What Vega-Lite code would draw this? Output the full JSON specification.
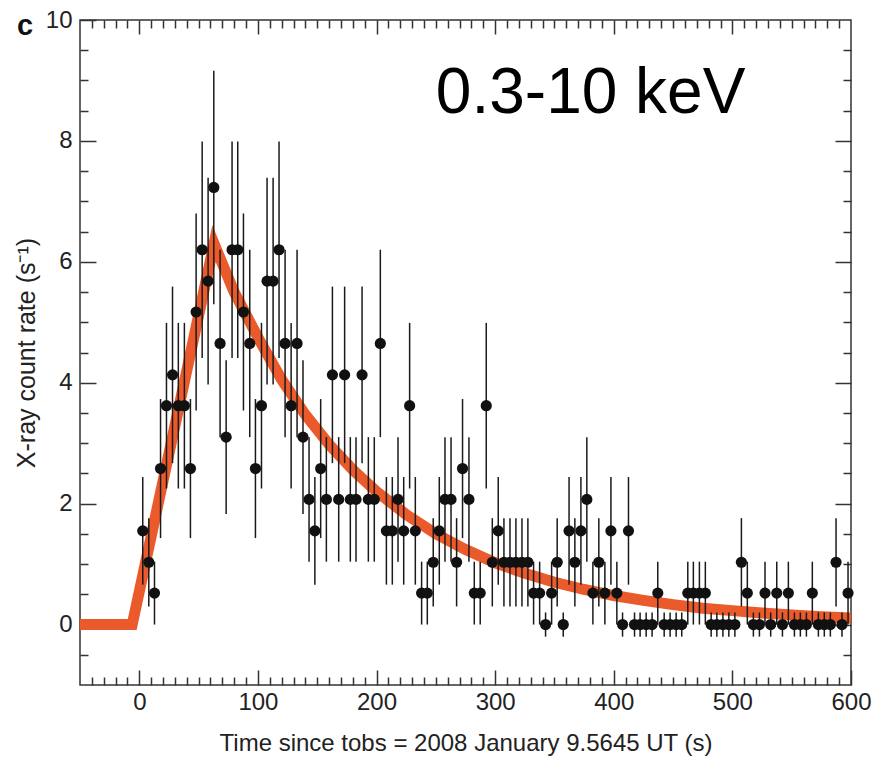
{
  "$schema": "https://vega.github.io/schema/vega-lite/v6.json",
  "width": 771,
  "height": 665,
  "autosize": {"type": "none"},
  "padding": {"left": 80, "top": 20, "right": 22, "bottom": 72},
  "background": "white",
  "title": {"text": "c", "anchor": "start", "frame": "group", "font": "Liberation Sans", "fontSize": 29, "fontWeight": "bold", "color": "#111", "dx": -63, "dy": 56, "offset": 0, "baseline": "alphabetic"},
  "config": {
    "view": {"stroke": "#333", "strokeWidth": 1.5},
    "axis": {"domain": false, "grid": false, "labelFont": "Liberation Sans", "titleFont": "Liberation Sans", "labelColor": "#222", "titleColor": "#222", "tickColor": "#333", "tickWidth": 1.5, "labelFontSize": 24, "titleFontSize": 24, "titleFontWeight": "normal", "labelFlush": false, "labelOverlap": false}
  },
  "datasets": {
    "obs": [
      {"t": 2.9, "rate": 1.55, "err": 0.89},
      {"t": 8.0, "rate": 1.03, "err": 0.73},
      {"t": 12.8, "rate": 0.52, "err": 0.52},
      {"t": 17.9, "rate": 2.58, "err": 1.15},
      {"t": 22.9, "rate": 3.62, "err": 1.37},
      {"t": 28.0, "rate": 4.13, "err": 1.46},
      {"t": 32.9, "rate": 3.62, "err": 1.37},
      {"t": 38.0, "rate": 3.62, "err": 1.37},
      {"t": 43.1, "rate": 2.58, "err": 1.15},
      {"t": 47.9, "rate": 5.17, "err": 1.63},
      {"t": 53.0, "rate": 6.2, "err": 1.79},
      {"t": 58.0, "rate": 5.68, "err": 1.71},
      {"t": 62.8, "rate": 7.23, "err": 1.93},
      {"t": 68.1, "rate": 4.65, "err": 1.55},
      {"t": 73.2, "rate": 3.1, "err": 1.27},
      {"t": 78.2, "rate": 6.2, "err": 1.79},
      {"t": 83.0, "rate": 6.2, "err": 1.79},
      {"t": 87.8, "rate": 5.17, "err": 1.63},
      {"t": 93.1, "rate": 4.65, "err": 1.55},
      {"t": 97.9, "rate": 2.58, "err": 1.15},
      {"t": 103.0, "rate": 3.62, "err": 1.37},
      {"t": 107.7, "rate": 5.68, "err": 1.71},
      {"t": 112.8, "rate": 5.68, "err": 1.71},
      {"t": 117.8, "rate": 6.2, "err": 1.79},
      {"t": 122.9, "rate": 4.65, "err": 1.55},
      {"t": 128.0, "rate": 3.62, "err": 1.37},
      {"t": 133.0, "rate": 4.65, "err": 1.55},
      {"t": 138.0, "rate": 3.1, "err": 1.27},
      {"t": 143.1, "rate": 2.07, "err": 1.03},
      {"t": 148.0, "rate": 1.55, "err": 0.89},
      {"t": 152.9, "rate": 2.58, "err": 1.15},
      {"t": 157.7, "rate": 2.07, "err": 1.03},
      {"t": 162.8, "rate": 4.13, "err": 1.46},
      {"t": 168.1, "rate": 2.07, "err": 1.03},
      {"t": 173.1, "rate": 4.13, "err": 1.46},
      {"t": 177.9, "rate": 2.07, "err": 1.03},
      {"t": 182.7, "rate": 2.07, "err": 1.03},
      {"t": 187.8, "rate": 4.13, "err": 1.46},
      {"t": 193.1, "rate": 2.07, "err": 1.03},
      {"t": 198.1, "rate": 2.07, "err": 1.03},
      {"t": 203.2, "rate": 4.65, "err": 1.55},
      {"t": 208.3, "rate": 1.55, "err": 0.89},
      {"t": 213.3, "rate": 1.55, "err": 0.89},
      {"t": 218.1, "rate": 2.07, "err": 1.03},
      {"t": 222.9, "rate": 1.55, "err": 0.89},
      {"t": 227.9, "rate": 3.62, "err": 1.37},
      {"t": 232.7, "rate": 1.55, "err": 0.89},
      {"t": 238.0, "rate": 0.52, "err": 0.52},
      {"t": 242.8, "rate": 0.52, "err": 0.52},
      {"t": 247.8, "rate": 1.03, "err": 0.73},
      {"t": 252.9, "rate": 1.55, "err": 0.89},
      {"t": 257.7, "rate": 2.07, "err": 1.03},
      {"t": 262.8, "rate": 2.07, "err": 1.03},
      {"t": 267.5, "rate": 1.03, "err": 0.73},
      {"t": 272.5, "rate": 2.58, "err": 1.15},
      {"t": 277.9, "rate": 2.07, "err": 1.03},
      {"t": 282.4, "rate": 0.52, "err": 0.52},
      {"t": 287.4, "rate": 0.52, "err": 0.52},
      {"t": 292.5, "rate": 3.62, "err": 1.37},
      {"t": 297.6, "rate": 1.03, "err": 0.73},
      {"t": 302.6, "rate": 1.55, "err": 0.89},
      {"t": 307.4, "rate": 1.03, "err": 0.73},
      {"t": 312.5, "rate": 1.03, "err": 0.73},
      {"t": 317.5, "rate": 1.03, "err": 0.73},
      {"t": 322.6, "rate": 1.03, "err": 0.73},
      {"t": 327.6, "rate": 1.03, "err": 0.73},
      {"t": 332.4, "rate": 0.52, "err": 0.52},
      {"t": 337.5, "rate": 0.52, "err": 0.52},
      {"t": 342.5, "rate": 0, "err": 0.2},
      {"t": 347.6, "rate": 0.52, "err": 0.52},
      {"t": 352.3, "rate": 1.03, "err": 0.73},
      {"t": 357.4, "rate": 0, "err": 0.2},
      {"t": 362.3, "rate": 1.55, "err": 0.89},
      {"t": 367.2, "rate": 1.03, "err": 0.73},
      {"t": 372.3, "rate": 1.55, "err": 0.89},
      {"t": 377.3, "rate": 2.07, "err": 1.03},
      {"t": 382.4, "rate": 0.52, "err": 0.52},
      {"t": 387.4, "rate": 1.03, "err": 0.73},
      {"t": 392.5, "rate": 0.52, "err": 0.52},
      {"t": 397.6, "rate": 1.55, "err": 0.89},
      {"t": 402.6, "rate": 0.52, "err": 0.52},
      {"t": 407.4, "rate": 0, "err": 0.2},
      {"t": 412.4, "rate": 1.55, "err": 0.89},
      {"t": 417.5, "rate": 0, "err": 0.2},
      {"t": 422.2, "rate": 0, "err": 0.2},
      {"t": 427.3, "rate": 0, "err": 0.2},
      {"t": 432.3, "rate": 0, "err": 0.2},
      {"t": 437.1, "rate": 0.52, "err": 0.52},
      {"t": 442.5, "rate": 0, "err": 0.2},
      {"t": 447.5, "rate": 0, "err": 0.2},
      {"t": 452.6, "rate": 0, "err": 0.2},
      {"t": 457.3, "rate": 0, "err": 0.2},
      {"t": 462.4, "rate": 0.52, "err": 0.52},
      {"t": 467.1, "rate": 0.52, "err": 0.52},
      {"t": 472.2, "rate": 0.52, "err": 0.52},
      {"t": 477.2, "rate": 0.52, "err": 0.52},
      {"t": 482.1, "rate": 0, "err": 0.2},
      {"t": 486.9, "rate": 0, "err": 0.2},
      {"t": 492.0, "rate": 0, "err": 0.2},
      {"t": 497.0, "rate": 0, "err": 0.2},
      {"t": 502.1, "rate": 0, "err": 0.2},
      {"t": 507.6, "rate": 1.03, "err": 0.73},
      {"t": 512.6, "rate": 0.52, "err": 0.52},
      {"t": 517.7, "rate": 0, "err": 0.2},
      {"t": 522.8, "rate": 0, "err": 0.2},
      {"t": 527.5, "rate": 0.52, "err": 0.52},
      {"t": 532.3, "rate": 0, "err": 0.2},
      {"t": 537.4, "rate": 0.52, "err": 0.52},
      {"t": 542.2, "rate": 0, "err": 0.2},
      {"t": 547.2, "rate": 0.52, "err": 0.52},
      {"t": 552.3, "rate": 0, "err": 0.2},
      {"t": 557.3, "rate": 0, "err": 0.2},
      {"t": 562.4, "rate": 0, "err": 0.2},
      {"t": 567.4, "rate": 0.52, "err": 0.52},
      {"t": 572.5, "rate": 0, "err": 0.2},
      {"t": 577.5, "rate": 0, "err": 0.2},
      {"t": 582.6, "rate": 0, "err": 0.2},
      {"t": 587.4, "rate": 1.03, "err": 0.73},
      {"t": 592.4, "rate": 0, "err": 0.2},
      {"t": 597.5, "rate": 0.52, "err": 0.52}
    ],
    "model": [
      {"t": -50, "rate": 0},
      {"t": -6, "rate": 0},
      {"t": 63, "rate": 6.3},
      {"t": 80, "rate": 5.5},
      {"t": 100, "rate": 4.75},
      {"t": 120, "rate": 4.05},
      {"t": 140, "rate": 3.47},
      {"t": 160, "rate": 2.98},
      {"t": 180, "rate": 2.56},
      {"t": 200, "rate": 2.2},
      {"t": 225, "rate": 1.82},
      {"t": 250, "rate": 1.5},
      {"t": 275, "rate": 1.24},
      {"t": 300, "rate": 1.02},
      {"t": 325, "rate": 0.85},
      {"t": 350, "rate": 0.7},
      {"t": 375, "rate": 0.58},
      {"t": 400, "rate": 0.48},
      {"t": 425, "rate": 0.4},
      {"t": 450, "rate": 0.33},
      {"t": 475, "rate": 0.27},
      {"t": 500, "rate": 0.23},
      {"t": 525, "rate": 0.19},
      {"t": 550, "rate": 0.16},
      {"t": 575, "rate": 0.13},
      {"t": 600, "rate": 0.11}
    ]
  },
  "layer": [
    {
      "data": {"name": "model"},
      "mark": {"type": "line", "color": "#EB5A2A", "strokeWidth": 11, "strokeJoin": "miter", "strokeCap": "butt", "clip": true},
      "encoding": {
        "x": {"field": "t", "type": "quantitative", "scale": {"domain": [-50, 600], "nice": false, "zero": false},
          "axis": {"orient": "bottom", "values": [0, 100, 200, 300, 400, 500, 600], "tickSize": -15, "labelPadding": 20, "title": "Time since tobs = 2008 January 9.5645 UT (s)", "titlePadding": 17}},
        "y": {"field": "rate", "type": "quantitative", "scale": {"domain": [-1, 10], "nice": false, "zero": false},
          "axis": {"orient": "left", "values": [0, 2, 4, 6, 8, 10], "tickSize": -16, "labelPadding": 24, "title": "X-ray count rate (s\u207b\u00b9)", "titleFontSize": 25, "titlePadding": 6}}
      }
    },
    {
      "data": {"name": "obs"},
      "mark": {"type": "errorbar", "color": "#1a1a1a", "thickness": 1.5},
      "encoding": {
        "x": {"field": "t", "type": "quantitative",
          "axis": {"orient": "bottom", "values": [-40, -30, -20, -10, 10, 20, 30, 40, 50, 60, 70, 80, 90, 110, 120, 130, 140, 150, 160, 170, 180, 190, 210, 220, 230, 240, 250, 260, 270, 280, 290, 310, 320, 330, 340, 350, 360, 370, 380, 390, 410, 420, 430, 440, 450, 460, 470, 480, 490, 510, 520, 530, 540, 550, 560, 570, 580, 590], "tickSize": -8, "labels": false, "title": null}},
        "y": {"field": "rate", "type": "quantitative",
          "axis": {"orient": "left", "values": [-0.5, 0.5, 1, 1.5, 2.5, 3, 3.5, 4.5, 5, 5.5, 6.5, 7, 7.5, 8.5, 9, 9.5], "tickSize": -8, "labels": false, "title": null}},
        "yError": {"field": "err"}
      }
    },
    {
      "data": {"name": "obs"},
      "mark": {"type": "point", "shape": "circle", "filled": true, "size": 125, "color": "#111", "opacity": 1},
      "encoding": {
        "x": {"field": "t", "type": "quantitative",
          "axis": {"orient": "top", "values": [0, 100, 200, 300, 400, 500], "tickSize": -14, "labels": false, "title": null}},
        "y": {"field": "rate", "type": "quantitative",
          "axis": {"orient": "right", "values": [0, 2, 4, 6, 8], "tickSize": -16, "labels": false, "title": null}}
      }
    },
    {
      "data": {"values": [{"label": "0.3-10 keV"}]},
      "mark": {"type": "text", "font": "Liberation Sans", "fontSize": 64, "align": "left", "baseline": "alphabetic", "color": "#000"},
      "encoding": {
        "x": {"datum": 250, "type": "quantitative",
          "axis": {"orient": "top", "values": [-40, -30, -20, -10, 10, 20, 30, 40, 50, 60, 70, 80, 90, 110, 120, 130, 140, 150, 160, 170, 180, 190, 210, 220, 230, 240, 250, 260, 270, 280, 290, 310, 320, 330, 340, 350, 360, 370, 380, 390, 410, 420, 430, 440, 450, 460, 470, 480, 490, 510, 520, 530, 540, 550, 560, 570, 580, 590], "tickSize": -8, "labels": false, "title": null}},
        "y": {"datum": 8.46, "type": "quantitative",
          "axis": {"orient": "right", "values": [-0.5, 0.5, 1, 1.5, 2.5, 3, 3.5, 4.5, 5, 5.5, 6.5, 7, 7.5, 8.5, 9, 9.5], "tickSize": -8, "labels": false, "title": null}},
        "text": {"field": "label"}
      }
    }
  ],
  "resolve": {"axis": {"x": "independent", "y": "independent"}}
}
